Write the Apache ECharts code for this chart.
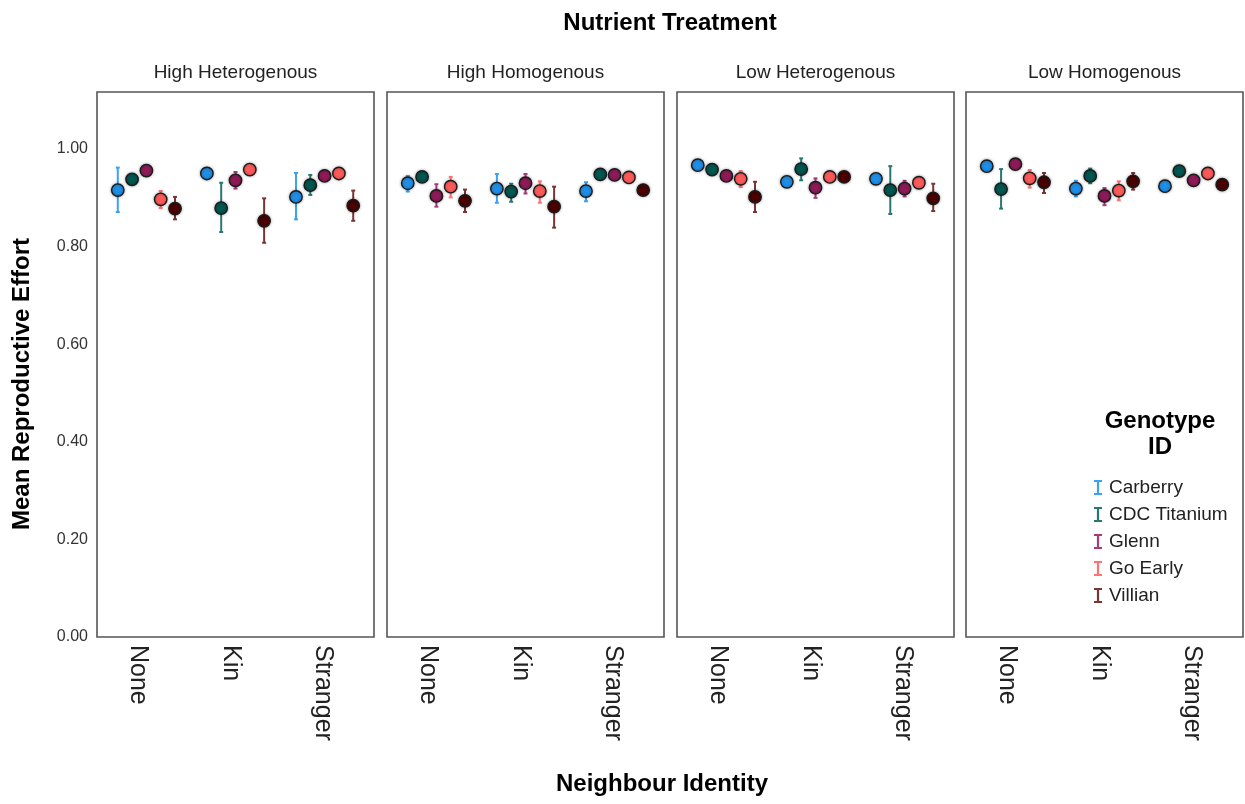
<!DOCTYPE html>
<html><head><meta charset="utf-8">
<script src="https://cdn.jsdelivr.net/npm/echarts@6/dist/echarts.min.js"></script>
<style>html,body{margin:0;padding:0;background:#fff}#c{width:1245px;height:804px}</style>
</head><body><div id="c"></div>
<script>
const treatments = ['High Heterogenous','High Homogenous','Low Heterogenous','Low Homogenous'];
const neighbours = ['None','Kin','Stranger'];
const genotypes = ['Carberry','CDC Titanium','Glenn','Go Early','Villian'];
const yTicks = [0, 0.2, 0.4, 0.6, 0.8, 1.0];
// values ordered: panel 1 (None, Kin, Stranger), panel 2 ..., panel 4
const carberryMean = [0.916,0.950,0.902, 0.930,0.919,0.914, 0.967,0.933,0.939, 0.965,0.919,0.924];
const carberryLow  = [0.871,0.945,0.856, 0.913,0.890,0.893, 0.962,0.928,0.934, 0.960,0.903,0.913];
const carberryHigh = [0.962,0.955,0.951, 0.945,0.949,0.932, 0.972,0.938,0.944, 0.970,0.935,0.935];
const titaniumMean = [0.938,0.879,0.926, 0.943,0.913,0.948, 0.958,0.959,0.916, 0.918,0.945,0.955];
const titaniumLow  = [0.930,0.830,0.906, 0.938,0.892,0.943, 0.953,0.936,0.867, 0.878,0.930,0.950];
const titaniumHigh = [0.946,0.931,0.947, 0.948,0.929,0.953, 0.963,0.981,0.965, 0.959,0.960,0.960];
const glennMean = [0.956,0.936,0.945, 0.904,0.930,0.947, 0.945,0.921,0.919, 0.969,0.904,0.936];
const glennLow  = [0.950,0.919,0.940, 0.882,0.909,0.942, 0.940,0.900,0.903, 0.964,0.885,0.931];
const glennHigh = [0.962,0.953,0.950, 0.928,0.949,0.952, 0.950,0.940,0.935, 0.974,0.920,0.941];
const goEarlyMean = [0.897,0.958,0.950, 0.923,0.914,0.942, 0.939,0.943,0.931, 0.940,0.915,0.950];
const goEarlyLow  = [0.879,0.953,0.945, 0.901,0.890,0.935, 0.922,0.938,0.926, 0.921,0.895,0.945];
const goEarlyHigh = [0.914,0.963,0.955, 0.943,0.934,0.949, 0.955,0.948,0.936, 0.957,0.934,0.955];
const villianMean = [0.878,0.853,0.884, 0.894,0.882,0.916, 0.902,0.943,0.899, 0.932,0.934,0.927];
const villianLow  = [0.856,0.808,0.853, 0.871,0.839,0.911, 0.871,0.938,0.873, 0.910,0.917,0.922];
const villianHigh = [0.902,0.899,0.915, 0.917,0.923,0.921, 0.933,0.948,0.929, 0.951,0.951,0.932];

const means = [carberryMean, titaniumMean, glennMean, goEarlyMean, villianMean];
const lows = [carberryLow, titaniumLow, glennLow, goEarlyLow, villianLow];
const highs = [carberryHigh, titaniumHigh, glennHigh, goEarlyHigh, villianHigh];
const fillColors = ['#1f8ee6','#00564f','#8e1a58','#ff5a5a','#4a0000'];
const barColors = ['#3aa2f2','#2a7771','#a83a78','#ff7272','#7a3434'];

const FONT = '"Liberation Sans", Arial, sans-serif';
const panelLeft = [97, 387, 677, 966];
const panelW = 277, panelTop = 92, panelH = 545;

const grids = [], xAxes = [], yAxes = [], series = [], graphics = [];
treatments.forEach((t, p) => {
  grids.push({left: panelLeft[p], top: panelTop, width: panelW, height: panelH,
    show: true, borderColor: '#555', borderWidth: 1.6, backgroundColor: '#fff'});
  xAxes.push({type: 'category', gridIndex: p, data: neighbours,
    axisLine: {show: false}, axisTick: {show: false},
    axisLabel: {rotate: -90, color: '#222', fontFamily: FONT, margin: 8,
      formatter: v => '{s|}\n{a|' + v + '}',
      rich: {s: {height: 10, fontSize: 8}, a: {fontSize: 25, color: '#222', fontFamily: FONT}}}});
  yAxes.push({type: 'value', gridIndex: p, min: 0, max: 1.117, interval: 0.2,
    axisLine: {show: false}, axisTick: {show: false}, splitLine: {show: false},
    axisLabel: {show: p === 0, fontSize: 16, color: '#333', fontFamily: FONT, margin: 9,
      formatter: v => yTicks.some(tk => Math.abs(tk - v) < 1e-6) ? v.toFixed(2) : ''}});
  graphics.push({type: 'text', x: panelLeft[p] + panelW / 2, y: 73,
    style: {text: t, fontSize: 19, fontFamily: FONT, fill: '#222', align: 'center', verticalAlign: 'middle'}});
  genotypes.forEach((g, gi) => {
    const data = neighbours.map((n, i) => [i, means[gi][p*3+i], lows[gi][p*3+i], highs[gi][p*3+i]]);
    series.push({type: 'custom', name: g, xAxisIndex: p, yAxisIndex: p,
      itemStyle: {color: barColors[gi]},
      data: data,
      renderItem: function(params, api) {
        const band = api.size([1, 0])[0];
        const cs = params.coordSys;
        const mid = cs.x + cs.width / 2;
        const off = (gi - 2) * 0.155 * band;
        const c = api.coord([api.value(0), api.value(1)]);
        const lo = api.coord([api.value(0), api.value(2)]);
        const hi = api.coord([api.value(0), api.value(3)]);
        const x = mid + (c[0] - mid) * 0.965 + off;
        const bs = {stroke: barColors[gi], lineWidth: 2};
        return {type: 'group', children: [
          {type: 'line', shape: {x1: x, y1: lo[1], x2: x, y2: hi[1]}, style: bs},
          {type: 'line', shape: {x1: x - 2, y1: lo[1], x2: x + 2, y2: lo[1]}, style: bs},
          {type: 'line', shape: {x1: x - 2, y1: hi[1], x2: x + 2, y2: hi[1]}, style: bs},
          {type: 'circle', shape: {cx: x, cy: c[1], r: 6.2},
            style: {fill: fillColors[gi], stroke: '#1a1a1a', lineWidth: 1.4,
              shadowBlur: 3, shadowColor: 'rgba(0,0,0,0.35)'}}
        ]};
      }});
  });
});

graphics.push({type: 'text', x: 670, y: 23,
  style: {text: 'Nutrient Treatment', fontSize: 24, fontWeight: 'bold', fontFamily: FONT, fill: '#000', align: 'center', verticalAlign: 'middle'}});
graphics.push({type: 'text', x: 662, y: 784,
  style: {text: 'Neighbour Identity', fontSize: 24, fontWeight: 'bold', fontFamily: FONT, fill: '#000', align: 'center', verticalAlign: 'middle'}});
graphics.push({type: 'text', x: 22, y: 384, rotation: Math.PI / 2,
  style: {text: 'Mean Reproductive Effort', fontSize: 24, fontWeight: 'bold', fontFamily: FONT, fill: '#000', align: 'center', verticalAlign: 'middle'}});
graphics.push({type: 'text', x: 1160, y: 434,
  style: {text: 'Genotype\nID', fontSize: 24, lineHeight: 26, fontWeight: 'bold', fontFamily: FONT, fill: '#000', align: 'center', verticalAlign: 'middle'}});

const option = {
  animation: false,
  backgroundColor: '#fff',
  grid: grids, xAxis: xAxes, yAxis: yAxes, series: series,
  legend: {data: genotypes, orient: 'vertical', left: 1089, top: 473,
    itemWidth: 8, itemHeight: 15, itemGap: 8,
    icon: 'path://M0,0 L8,0 L8,2 L5.1,2 L5.1,13 L8,13 L8,15 L0,15 L0,13 L2.9,13 L2.9,2 L0,2 Z',
    selectedMode: false,
    textStyle: {fontSize: 19, fontFamily: FONT, color: '#222', padding: [0,0,0,2]}},
  graphic: graphics
};
echarts.init(document.getElementById('c')).setOption(option);
</script></body></html>
